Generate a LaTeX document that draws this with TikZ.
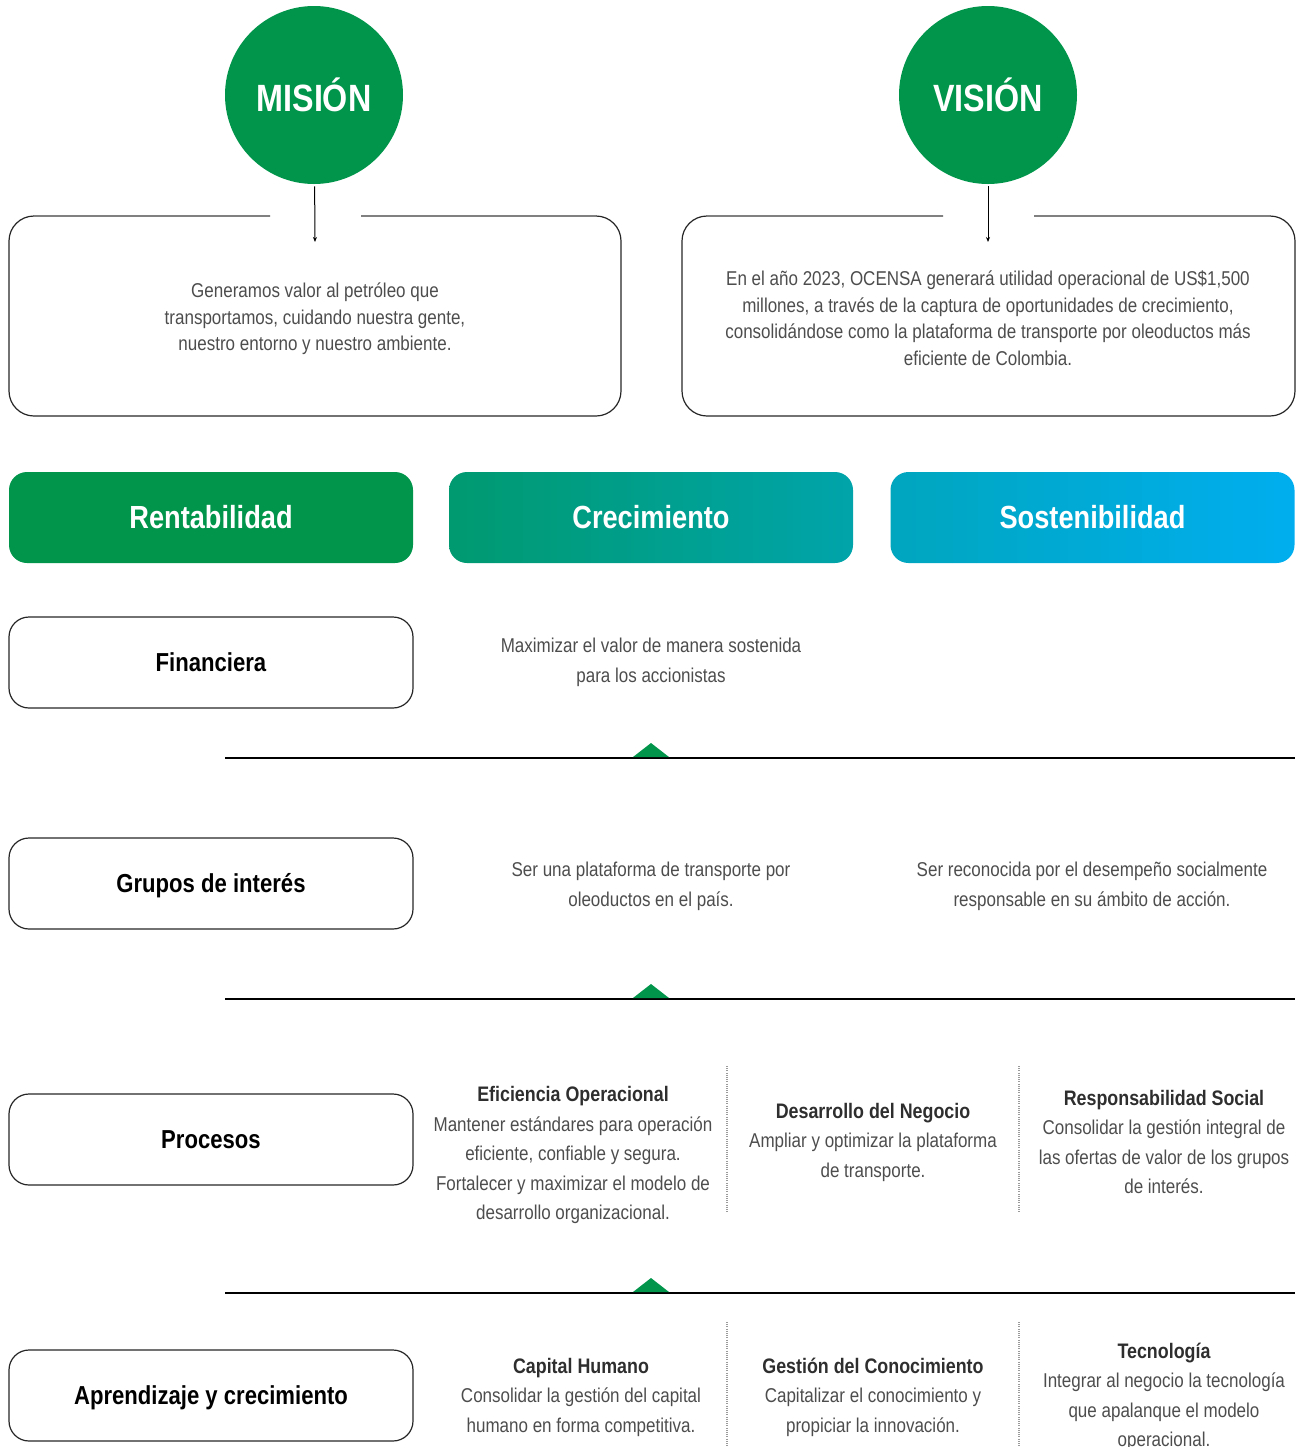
\documentclass[tikz,border=0pt]{standalone}
\usepackage{fontspec}
\setmainfont[FakeStretch=0.85]{Liberation Sans}
\usetikzlibrary{arrows.meta}

\definecolor{ocgreen}{HTML}{00954A}
\definecolor{crecleft}{HTML}{009A70}
\definecolor{crecright}{HTML}{00A4AA}
\definecolor{sostleft}{HTML}{00A6BE}
\definecolor{sostright}{HTML}{00AEEF}
\definecolor{bodygray}{HTML}{4D4D4D}
\definecolor{titlegray}{HTML}{2E2E2E}
\definecolor{topgray}{HTML}{808080}
\definecolor{dotgray}{HTML}{9A9A9A}

\tikzset{
  circ/.style={circle, fill=ocgreen, minimum size=89pt, inner sep=0pt, text=white,
    font=\fontsize{19}{22}\selectfont\bfseries},
  frame/.style={draw=black!85, line width=0.6pt, rounded corners=12.5pt},
  topline/.style={draw=topgray, line width=1.2pt},
  bodytext/.style={align=center, inner sep=0pt, text=bodygray, font=\fontsize{10}{13.25}\selectfont},
  rowtext/.style={align=center, inner sep=0pt, text=bodygray, font=\fontsize{10}{15}\selectfont},
  proctext/.style={align=center, inner sep=0pt, text=bodygray, font=\fontsize{10}{14.75}\selectfont},
  button/.style={rounded corners=9pt, minimum width=202pt, minimum height=45.5pt, inner sep=0pt,
    text=white, font=\fontsize{16}{19}\selectfont\bfseries},
  rowbox/.style={draw=black!85, line width=0.6pt, rounded corners=10pt, minimum width=202pt,
    minimum height=45.5pt, inner sep=0pt, text height=9.3pt, text depth=0pt,
    font=\fontsize{13}{15}\selectfont\bfseries},
  sepline/.style={draw=black, line width=0.7pt},
  dotline/.style={draw=dotgray, line width=0.6pt, dash pattern=on 0.5pt off 0.6pt},
}
\newcommand{\proctitle}[1]{{\color{titlegray}\fontsize{10.5}{14.75}\selectfont\bfseries #1}}

\begin{document}
\begin{tikzpicture}[x=0.5pt, y=-0.5pt]
\useasboundingbox (0,0) rectangle (1301,1447);

% mision / vision
\node[circ] (mision) at (314,95) {MISIÓN};
\node[circ] (vision) at (988,95) {VISIÓN};

\draw[frame] (270,216) -- (9,216) -- (9,416) -- (621,416) -- (621,216) -- (361,216);
\draw[topline] (34,216) -- (270,216);
\draw[topline] (361,216) -- (596,216);
\draw[frame] (943,216) -- (682,216) -- (682,416) -- (1295,416) -- (1295,216) -- (1034,216);
\draw[topline] (707,216) -- (943,216);
\draw[topline] (1034,216) -- (1270,216);

\coordinate (misend) at (315,242);
\coordinate (visend) at (988,242);
\draw[line width=0.5pt, -{Stealth[length=2.5pt,width=2pt]}, shorten <=1pt] (mision) -- (misend);
\draw[line width=0.5pt, -{Stealth[length=2.5pt,width=2pt]}, shorten <=1pt] (vision) -- (visend);

\node[bodytext] (mistext) at (315,319) {Generamos valor al petróleo que\\
  transportamos, cuidando nuestra gente,\\ nuestro entorno y nuestro ambiente.};
\node[bodytext] (vistext) at (988,318) {En el año 2023, OCENSA generará utilidad operacional de US\$1,500\\
  millones, a través de la captura de oportunidades de crecimiento,\\
  consolidándose como la plataforma de transporte por oleoductos más\\
  eficiente de Colombia.};

% perspectivas
\node[button, fill=ocgreen] (rent) at (211,517.5) {Rentabilidad};
\node[button, left color=crecleft, right color=crecright] (crec) at (651,517.5) {Crecimiento};
\node[button, left color=sostleft, right color=sostright] (sost) at (1092.5,517.5) {Sostenibilidad};

% financiera
\node[rowbox] (fin) at (211,662.5) {Financiera};
\node[rowtext] (fintext) at (651,662) {Maximizar el valor de manera sostenida\\ para los accionistas};
\draw[sepline] (225,758) -- (1295,758);
\fill[ocgreen] (633,757) -- (651,743) -- (669,757) -- cycle;

% grupos de interes
\node[rowbox] (grupos) at (211,883.5) {Grupos de interés};
\node[rowtext] (grutextA) at (651,886) {Ser una plataforma de transporte por\\ oleoductos en el país.};
\node[rowtext] (grutextB) at (1092,886) {Ser reconocida por el desempeño socialmente\\ responsable en su ámbito de acción.};
\draw[sepline] (225,999) -- (1295,999);
\fill[ocgreen] (633,998) -- (651,984) -- (669,998) -- cycle;

% procesos
\node[rowbox] (proc) at (211,1139.5) {Procesos};
\node[proctext] (procA) at (573,1155) {\proctitle{Eficiencia Operacional}\\
  Mantener estándares para operación\\ eficiente, confiable y segura.\\
  Fortalecer y maximizar el modelo de\\ desarrollo organizacional.};
\node[proctext] (procB) at (873,1142) {\proctitle{Desarrollo del Negocio}\\
  Ampliar y optimizar la plataforma\\ de transporte.};
\node[proctext] (procC) at (1164,1142) {\proctitle{Responsabilidad Social}\\
  Consolidar la gestión integral de\\ las ofertas de valor de los grupos\\ de interés.};
\draw[dotline] (727,1066) -- (727,1212);
\draw[dotline] (1019,1066) -- (1019,1212);
\draw[sepline] (225,1293) -- (1295,1293);
\fill[ocgreen] (633,1292) -- (651,1278) -- (669,1292) -- cycle;

% aprendizaje
\node[rowbox] (apren) at (211,1395.5) {Aprendizaje y crecimiento};
\node[proctext] (aprenA) at (581,1397) {\proctitle{Capital Humano}\\
  Consolidar la gestión del capital\\ humano en forma competitiva.};
\node[proctext] (aprenB) at (873,1397) {\proctitle{Gestión del Conocimiento}\\
  Capitalizar el conocimiento y\\ propiciar la innovación.};
\node[proctext] (aprenC) at (1164,1397) {\proctitle{Tecnología}\\
  Integrar al negocio la tecnología\\ que apalanque el modelo\\ operacional.};
\draw[dotline] (727,1322) -- (727,1447);
\draw[dotline] (1019,1322) -- (1019,1447);
\end{tikzpicture}
\end{document}
